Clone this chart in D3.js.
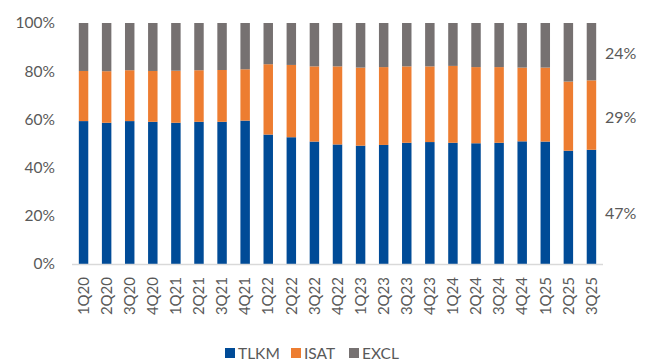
<!DOCTYPE html>
<html>
<head>
<meta charset="utf-8">
<script src="https://cdn.jsdelivr.net/npm/d3@7"></script>
<style>
  body { margin: 0; background: #fff; }
  text { font-family: Lato, "Open Sans", sans-serif; fill: #595959; }
</style>
</head>
<body>
<div id="wrap"></div>
<script>
// quarters and market share (%)
var quarters = ["1Q20","2Q20","3Q20","4Q20","1Q21","2Q21","3Q21","4Q21","1Q22","2Q22","3Q22","4Q22",
                "1Q23","2Q23","3Q23","4Q23","1Q24","2Q24","3Q24","4Q24","1Q25","2Q25","3Q25"];
var tlkm = [59.3,58.6,59.3,59.0,58.6,59.0,59.0,59.5,53.7,52.6,50.8,49.6,49.1,49.4,50.3,50.6,50.3,50.1,50.3,50.9,50.8,47.0,47.4];
var isat = [20.8,21.4,21.1,21.1,21.6,21.4,21.5,21.3,29.2,30.0,31.2,32.4,32.4,32.3,31.7,31.4,31.9,31.6,31.4,30.6,30.7,28.7,28.8];
var excl = tlkm.map(function (d, i) { return +(100 - d - isat[i]).toFixed(1); });
var series = ["TLKM","ISAT","EXCL"];
var colors = ["#004B97","#ED7D31","#767171"];
var endLabels = ["47%","29%","24%"];
var yTicks = [0,20,40,60,80,100];

var width = 660, height = 361;
var svg = d3.select('#wrap').append('svg')
  .attr("width", width)
  .attr("height", height);

var x = d3.scaleBand().domain(quarters).range([72, 603]).paddingInner(0.59).paddingOuter(0.295);
var y = d3.scaleLinear().domain([0, 100]).range([264, 23]);

var rows = quarters.map(function (q, i) {
  return { q: q, TLKM: tlkm[i], ISAT: isat[i], EXCL: excl[i] };
});
var stacked = d3.stack().keys(series)(rows);

svg.selectAll("g.layer")
  .data(stacked)
  .enter().append("g")
  .attr("class", "layer")
  .attr("fill", function (d, i) { return colors[i]; })
  .selectAll("rect")
  .data(function (d) { return d; })
  .enter().append("rect")
  .attr("x", function (d) { return x(d.data.q); })
  .attr("width", x.bandwidth())
  .attr("y", function (d) { return y(d[1]); })
  .attr("height", function (d) { return y(d[0]) - y(d[1]); });

// y axis labels
svg.append("g")
  .attr("transform", "translate(55,0)")
  .call(d3.axisLeft(y).tickValues(yTicks).tickSize(0).tickFormat(function (d) { return d + "%"; }))
  .call(function (g) { g.select(".domain").remove(); })
  .selectAll("text")
  .attr("x", 0)
  .style("font-size", "15.5px")
  .style("font-family", "Lato, sans-serif")
  .style("fill", "#595959");

// x axis
var xg = svg.append("g")
  .attr("transform", "translate(0,264)")
  .call(d3.axisBottom(x).tickSize(0));
xg.select(".domain").attr("stroke", "#D9D9D9").attr("stroke-width", 1.5).attr("d", "M72,0.5H603");
xg.selectAll("text")
  .attr("transform", "rotate(-90)")
  .attr("x", -13)
  .attr("y", 0)
  .attr("dy", "0.35em")
  .style("text-anchor", "end")
  .style("font-size", "15px")
  .style("font-family", "Lato, sans-serif")
  .style("fill", "#595959");

// right side share labels for last quarter
var labelPos = [21, 61, 87.5];
svg.selectAll("text.end")
  .data(endLabels)
  .enter().append("text")
  .attr("class", "end")
  .attr("x", 605)
  .attr("y", function (d, i) { return y(labelPos[i]); })
  .attr("dy", "0.35em")
  .style("font-size", "16px")
  .text(function (d) { return d; });

// legend
var legX = [225, 291, 349];
var leg = svg.selectAll("g.leg")
  .data(series)
  .enter().append("g")
  .attr("class", "leg")
  .attr("transform", function (d, i) { return "translate(" + legX[i] + ",348)"; });
leg.append("rect").attr("width", 10).attr("height", 10)
  .attr("fill", function (d, i) { return colors[i]; });
leg.append("text").attr("x", 13).attr("y", 10.5).style("font-size", "15.5px").text(function (d) { return d; });
</script>
</body>
</html>
